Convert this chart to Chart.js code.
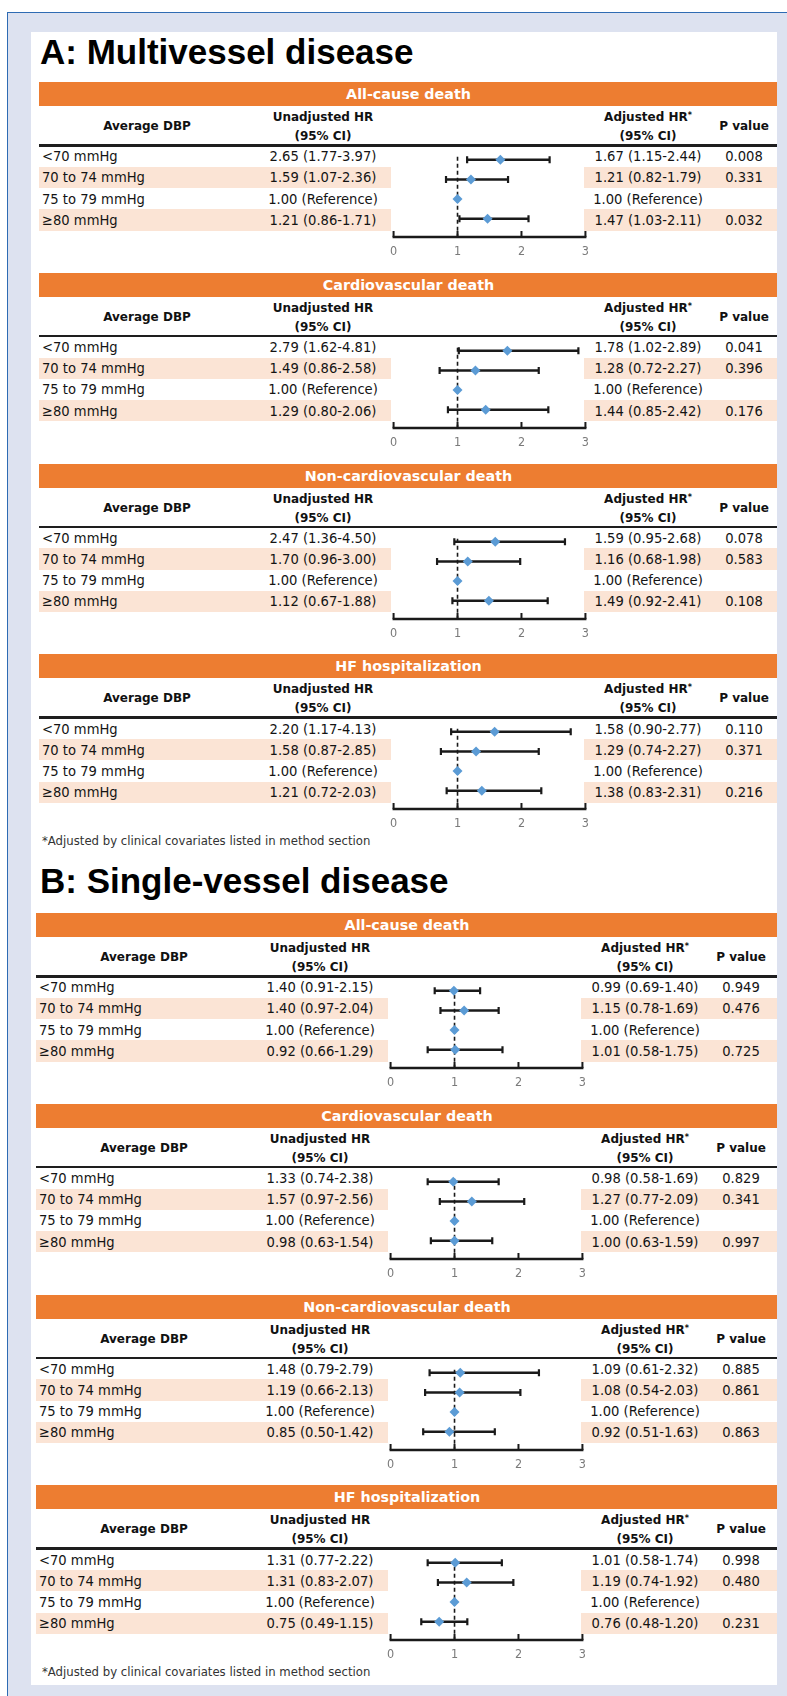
<!DOCTYPE html>
<html><head><meta charset="utf-8">
<script src="https://cdn.jsdelivr.net/npm/chart.js@4.4.1/dist/chart.umd.min.js"></script>
<style>
html,body{margin:0;padding:0;background:#fff;}
body{width:787px;height:1696px;position:relative;overflow:hidden;}
#frame{position:absolute;left:7px;top:12px;width:800px;height:1700px;background:#dde2f0;border-left:1px solid #2e6bb3;border-top:1px solid #2e6bb3;}
#panel{position:absolute;left:31px;top:32px;width:746px;height:1653px;background:#fff;}
.abs{position:absolute;white-space:nowrap;}
.t{font-family:"DejaVu Sans Condensed","DejaVu Sans",sans-serif;font-stretch:condensed;font-size:14.6px;color:#141414;}
.hb{font-family:"DejaVu Sans",sans-serif;font-weight:bold;font-size:12px;color:#111;}
.ob{font-family:"DejaVu Sans",sans-serif;font-weight:bold;font-size:14.3px;color:#fff;}
.ttl{font-family:"Liberation Sans",Arial,sans-serif;font-weight:bold;font-size:35px;line-height:40px;color:#000;}
.fn{font-family:"DejaVu Sans Condensed","DejaVu Sans",sans-serif;font-stretch:condensed;font-size:13px;color:#333;}
sup{font-size:8px;vertical-align:top;position:relative;top:-1px;}
canvas{position:absolute;}
</style>
</head><body>
<div id="frame"></div>
<div id="panel"></div>
<script>
// ---------- data ----------
const categories = ["<70 mmHg", "70 to 74 mmHg", "75 to 79 mmHg", "\u226580 mmHg"];
const outcomes = ["All-cause death", "Cardiovascular death", "Non-cardiovascular death", "HF hospitalization"];
const sectionTitles = ["A: Multivessel disease", "B: Single-vessel disease"];
const xTicks = [0, 1, 2, 3];
const footnote = "*Adjusted by clinical covariates listed in method section";

// A: Multivessel disease (rows: <70, 70-74, 75-79 reference, >=80)
const multiUnadjHR = [[2.65, 1.59, 1.00, 1.21], [2.79, 1.49, 1.00, 1.29], [2.47, 1.70, 1.00, 1.12], [2.20, 1.58, 1.00, 1.21]];
const multiUnadjLo = [[1.77, 1.07, null, 0.86], [1.62, 0.86, null, 0.80], [1.36, 0.96, null, 0.67], [1.17, 0.87, null, 0.72]];
const multiUnadjHi = [[3.97, 2.36, null, 1.71], [4.81, 2.58, null, 2.06], [4.50, 3.00, null, 1.88], [4.13, 2.85, null, 2.03]];
const multiAdjHR = [[1.67, 1.21, 1.00, 1.47], [1.78, 1.28, 1.00, 1.44], [1.59, 1.16, 1.00, 1.49], [1.58, 1.29, 1.00, 1.38]];
const multiAdjLo = [[1.15, 0.82, null, 1.03], [1.02, 0.72, null, 0.85], [0.95, 0.68, null, 0.92], [0.90, 0.74, null, 0.83]];
const multiAdjHi = [[2.44, 1.79, null, 2.11], [2.89, 2.27, null, 2.42], [2.68, 1.98, null, 2.41], [2.77, 2.27, null, 2.31]];
const multiP = [["0.008", "0.331", "", "0.032"], ["0.041", "0.396", "", "0.176"], ["0.078", "0.583", "", "0.108"], ["0.110", "0.371", "", "0.216"]];

// B: Single-vessel disease
const singleUnadjHR = [[1.40, 1.40, 1.00, 0.92], [1.33, 1.57, 1.00, 0.98], [1.48, 1.19, 1.00, 0.85], [1.31, 1.31, 1.00, 0.75]];
const singleUnadjLo = [[0.91, 0.97, null, 0.66], [0.74, 0.97, null, 0.63], [0.79, 0.66, null, 0.50], [0.77, 0.83, null, 0.49]];
const singleUnadjHi = [[2.15, 2.04, null, 1.29], [2.38, 2.56, null, 1.54], [2.79, 2.13, null, 1.42], [2.22, 2.07, null, 1.15]];
const singleAdjHR = [[0.99, 1.15, 1.00, 1.01], [0.98, 1.27, 1.00, 1.00], [1.09, 1.08, 1.00, 0.92], [1.01, 1.19, 1.00, 0.76]];
const singleAdjLo = [[0.69, 0.78, null, 0.58], [0.58, 0.77, null, 0.63], [0.61, 0.54, null, 0.51], [0.58, 0.74, null, 0.48]];
const singleAdjHi = [[1.40, 1.69, null, 1.75], [1.69, 2.09, null, 1.59], [2.32, 2.03, null, 1.63], [1.74, 1.92, null, 1.20]];
const singleP = [["0.949", "0.476", "", "0.725"], ["0.829", "0.341", "", "0.997"], ["0.885", "0.861", "", "0.863"], ["0.998", "0.480", "", "0.231"]];

// ---------- layout ----------
const sections = [
  {title: sectionTitles[0], titleTop: 32, sx: 0, left: 39, tops: [82, 272.8, 463.6, 654.4], fnY: 841,
   uHR: multiUnadjHR, uLo: multiUnadjLo, uHi: multiUnadjHi, aHR: multiAdjHR, aLo: multiAdjLo, aHi: multiAdjHi, p: multiP},
  {title: sectionTitles[1], titleTop: 861, sx: -3, left: 36, tops: [913, 1103.8, 1294.6, 1485.4], fnY: 1672,
   uHR: singleUnadjHR, uLo: singleUnadjLo, uHi: singleUnadjHi, aHR: singleAdjHR, aLo: singleAdjLo, aHi: singleAdjHi, p: singleP}
];
const RIGHT = 777, ROWH = 21.25;

function el(cls, html, style) {
  const d = document.createElement('div');
  d.className = 'abs ' + cls;
  d.innerHTML = html;
  Object.assign(d.style, style);
  document.body.appendChild(d);
  return d;
}
function txtC(cls, html, cx, cy, h) {
  h = h || 20;
  return el(cls, html, {left: (cx - 150) + 'px', width: '300px', textAlign: 'center', top: (cy - h / 2) + 'px', height: h + 'px', lineHeight: h + 'px'});
}
function txtL(cls, html, x, cy, h) {
  h = h || 20;
  return el(cls, html, {left: x + 'px', top: (cy - h / 2) + 'px', height: h + 'px', lineHeight: h + 'px'});
}
function rect(x, y, w, h, color) {
  return el('', '', {left: x + 'px', top: y + 'px', width: w + 'px', height: h + 'px', background: color});
}
const fmt = v => v.toFixed(2);
function ciText(hr, lo, hi) {
  return lo == null ? fmt(hr) + ' (Reference)' : fmt(hr) + ' (' + fmt(lo) + '-' + fmt(hi) + ')';
}

const forestPlugin = {
  id: 'forest',
  beforeDatasetsDraw(chart) {
    const {ctx, chartArea: a, scales: {x, y}} = chart;
    const ds = chart.data.datasets[0];
    ctx.save();
    ctx.strokeStyle = '#1a1a1a';
    // axis line with upward ticks
    const yb = a.bottom;
    ctx.lineWidth = 2.6;
    ctx.beginPath();
    ctx.moveTo(x.getPixelForValue(xTicks[0]) - 1, yb);
    ctx.lineTo(x.getPixelForValue(xTicks[xTicks.length - 1]) + 1, yb);
    ctx.stroke();
    ctx.lineWidth = 2;
    xTicks.forEach(v => {
      const px = x.getPixelForValue(v);
      ctx.beginPath(); ctx.moveTo(px, yb); ctx.lineTo(px, yb - 6); ctx.stroke();
    });
    // dashed reference line at HR = 1
    ctx.lineWidth = 1.6;
    ctx.setLineDash([4, 3]);
    const px1 = x.getPixelForValue(1);
    ctx.beginPath(); ctx.moveTo(px1, y.getPixelForValue(0.85)); ctx.lineTo(px1, yb); ctx.stroke();
    ctx.setLineDash([]);
    // confidence intervals
    ds.lo.forEach((lo, i) => {
      if (lo == null) return;
      const yy = y.getPixelForValue(i + 1);
      const xa = x.getPixelForValue(lo), xb = x.getPixelForValue(ds.hi[i]);
      ctx.lineWidth = 2.6;
      ctx.beginPath(); ctx.moveTo(xa, yy); ctx.lineTo(xb, yy); ctx.stroke();
      ctx.lineWidth = 2.2;
      ctx.beginPath();
      ctx.moveTo(xa, yy - 3.5); ctx.lineTo(xa, yy + 3.5);
      ctx.moveTo(xb, yy - 3.5); ctx.lineTo(xb, yy + 3.5);
      ctx.stroke();
    });
    ctx.restore();
  }
};

sections.forEach(sec => {
  const sx = sec.sx;
  el('ttl', sec.title, {left: '40px', top: sec.titleTop + 'px'});
  sec.tops.forEach((T, k) => {
    // orange header
    rect(sec.left, T, RIGHT - sec.left, 24, '#ed7d31');
    txtC('ob', outcomes[k], (sec.left + RIGHT) / 2 + 0.5, T + 12);
    // column headers
    txtC('hb', 'Average DBP', 147 + sx, T + 44);
    txtC('hb', 'Unadjusted HR', 323 + sx, T + 35);
    txtC('hb', '(95% CI)', 323 + sx, T + 54);
    txtC('hb', 'Adjusted HR<sup>*</sup>', 648 + sx, T + 35);
    txtC('hb', '(95% CI)', 648 + sx, T + 54);
    txtC('hb', 'P value', 744 + sx, T + 44);
    rect(sec.left, T + 62, RIGHT - sec.left, 2.6, '#1e1e1e');
    // rows
    const r0 = T + 63.5;
    categories.forEach((c, i) => {
      const top = r0 + i * ROWH, cy = top + ROWH / 2;
      if (i % 2 === 1) {
        rect(sec.left, top, 391 + sx - sec.left, ROWH, '#fbe4d5');
        rect(584 + sx, top, RIGHT - 584 - sx, ROWH, '#fbe4d5');
      }
      txtL('t', c.replace('<', '&lt;'), 42 + sx, cy);
      txtC('t', ciText(sec.uHR[k][i], sec.uLo[k][i], sec.uHi[k][i]), 323 + sx, cy);
      txtC('t', ciText(sec.aHR[k][i], sec.aLo[k][i], sec.aHi[k][i]), 648 + sx, cy);
      txtC('t', sec.p[k][i], 744 + sx, cy);
    });
    // forest plot
    const cv = document.createElement('canvas');
    cv.width = 213; cv.height = 117;
    Object.assign(cv.style, {left: (383 + sx) + 'px', top: (T + 62) + 'px', width: '213px', height: '117px'});
    document.body.appendChild(cv);
    new Chart(cv, {
      type: 'scatter',
      data: {datasets: [{
        data: sec.aHR[k].map((v, i) => ({x: v, y: i + 1})),
        lo: sec.aLo[k], hi: sec.aHi[k],
        pointStyle: 'rectRot', radius: 5, backgroundColor: '#5b9bd5', borderWidth: 0
      }]},
      options: {
        responsive: false, animation: false, events: [], devicePixelRatio: 1,
        plugins: {legend: {display: false}, tooltip: {enabled: false}},
        layout: {padding: {left: 10, right: 10, top: 0, bottom: 0}},
        scales: {
          x: {type: 'linear', min: xTicks[0], max: xTicks[xTicks.length - 1],
              grid: {display: false, drawTicks: false}, border: {display: false},
              ticks: {stepSize: 1, padding: 7, color: '#7a7a7a', font: {family: '"DejaVu Sans Condensed","DejaVu Sans",sans-serif', size: 12.5}},
              afterFit(s) { s.height = 24; }},
          y: {type: 'linear', display: false, reverse: true, min: 0.454, max: 4.925}
        }
      },
      plugins: [forestPlugin]
    });
  });
  txtL('fn', footnote, 42, sec.fnY);
});
</script>
</body></html>
